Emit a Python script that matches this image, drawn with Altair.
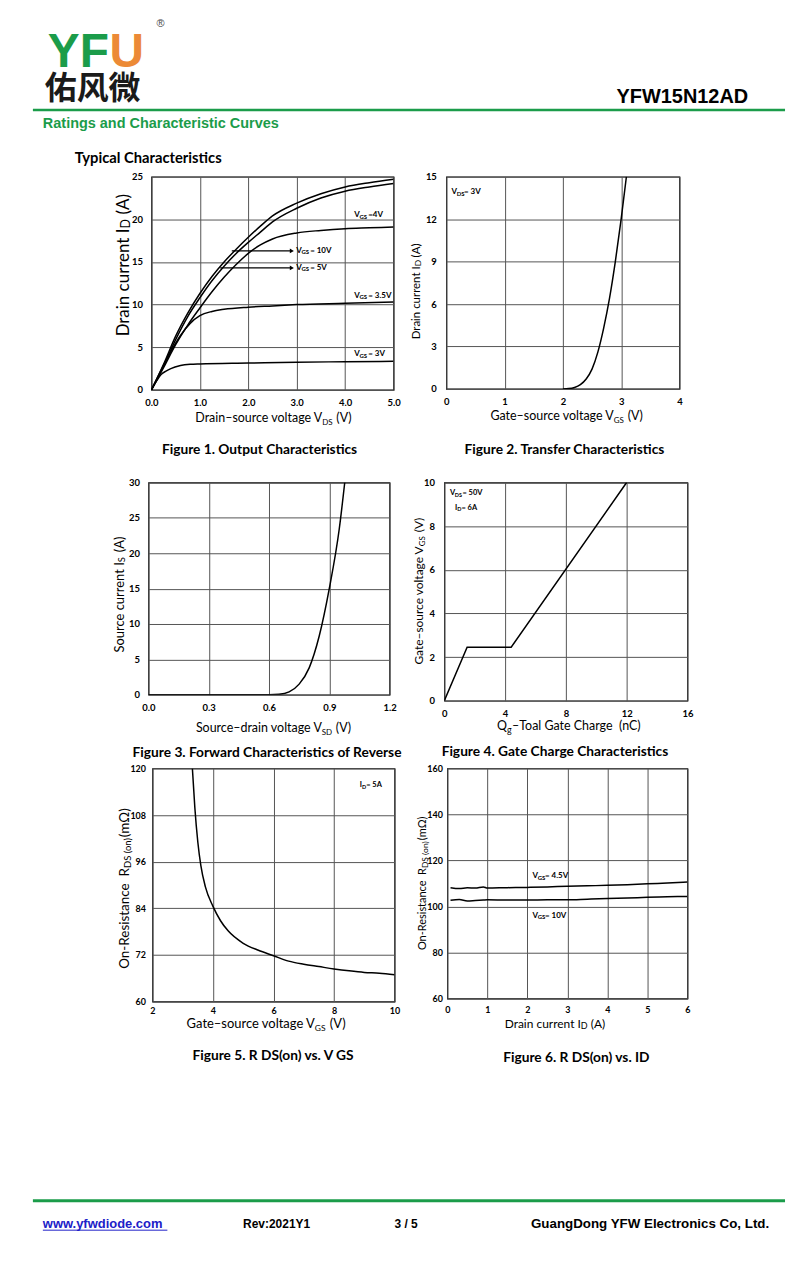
import altair as alt
import pandas as pd

# ---------------- data ----------------
# Figure 1: Output characteristics
F1_VDS = [0, 0.25, 0.5, 0.75, 1.0, 1.25, 1.5, 1.75, 2.0, 2.25, 2.5, 3.0, 3.5, 4.0, 4.5, 5.0]
F1_ID_VGS10 = [0, 3.0, 6.3, 9.0, 11.3, 13.3, 15.0, 16.5, 17.9, 19.2, 20.4, 21.9, 23.0, 23.8, 24.3, 24.7]
F1_ID_VGS5 = [0, 2.8, 5.9, 8.6, 10.8, 12.8, 14.5, 16.0, 17.3, 18.5, 19.7, 21.3, 22.5, 23.3, 23.8, 24.2]
F1_ID_VGS4 = [0, 2.6, 5.3, 7.6, 9.6, 11.5, 13.2, 14.7, 16.0, 17.0, 17.7, 18.4, 18.7, 18.9, 19.0, 19.1]
F1_VDS_VGS35 = [0, 0.2, 0.4, 0.6, 0.8, 1.0, 1.25, 1.5, 2.0, 2.5, 3.0, 4.0, 5.0]
F1_ID_VGS35 = [0, 2.3, 4.5, 6.4, 7.8, 8.7, 9.2, 9.45, 9.7, 9.85, 10.0, 10.15, 10.3]
F1_VDS_VGS3 = [0, 0.1, 0.2, 0.3, 0.4, 0.6, 0.8, 1.0, 2.0, 3.0, 4.0, 5.0]
F1_ID_VGS3 = [0, 1.0, 1.8, 2.2, 2.5, 2.85, 3.0, 3.05, 3.15, 3.25, 3.3, 3.35]
F1_LABEL_X = [4.19, 4.19, 4.19, 2.99, 2.99]
F1_LABEL_Y = [20.5, 11.05, 4.2, 16.3, 14.3]
F1_LABEL_TAIL = ["=4V", "= 3.5V", "= 3V", "= 10V", "= 5V"]
F1_ARROW_X1 = [1.66, 1.42]
F1_ARROW_X2 = [2.9, 2.9]
F1_ARROW_Y = [16.3, 14.3]

# Figure 2: Transfer characteristics
F2_VGS = [2.0, 2.1, 2.2, 2.3, 2.4, 2.5, 2.6, 2.7, 2.8, 2.9, 3.0, 3.09]
F2_ID = [0, 0.02, 0.1, 0.3, 0.7, 1.4, 2.6, 4.3, 6.4, 9.0, 12.0, 15.0]

# Figure 3: Forward characteristics of reverse diode
F3_VSD = [0, 0.6, 0.65, 0.7, 0.75, 0.8, 0.85, 0.9, 0.95, 0.977]
F3_IS = [0, 0, 0.05, 0.4, 1.5, 3.8, 8.3, 15.0, 23.5, 30.0]

# Figure 4: Gate charge
F4_QG = [0, 1.5, 4.4, 12.0]
F4_VGS = [0, 2.45, 2.45, 10.0]

# Figure 5: RDS(on) vs VGS
F5_VGS = [3.32, 3.4, 3.5, 3.6, 3.75, 4.0, 4.25, 4.5, 5.0, 5.5, 6.0, 6.5, 7.0, 7.5, 8.0, 8.5, 9.0, 9.5, 10.0]
F5_RDS = [120, 110, 101, 95, 89.5, 84.5, 80.8, 78.2, 75.0, 73.2, 71.8, 70.4, 69.6, 69.0, 68.4, 67.9, 67.5, 67.3, 66.9]

# Figure 6: RDS(on) vs ID
F6_ID = [0.08, 0.3, 0.5, 0.7, 0.9, 1.0, 1.5, 2.0, 2.5, 3.0, 3.5, 4.0, 4.5, 5.0, 5.5, 6.0]
F6_RDS_VGS45 = [108.2, 107.8, 108.1, 108.0, 108.5, 108.0, 108.2, 108.3, 108.5, 108.8, 109.0, 109.2, 109.5, 109.9, 110.2, 110.6]
F6_RDS_VGS10 = [102.7, 103.0, 102.4, 102.6, 102.8, 102.9, 102.8, 102.8, 102.9, 102.9, 103.2, 103.5, 103.7, 104.0, 104.2, 104.4]

# ---------------- styling helpers ----------------
FONT = "Lato"
HF = "Liberation Sans"
GRID = "#555555"
GREEN = "#1b9c4a"
CAP = 13.8
ONE = pd.DataFrame({"k": [0]})


def ptext(x, y, text, size, weight="normal", align="left", baseline="alphabetic",
          angle=0, dx=0, dy=0, font=FONT, color="black"):
    return alt.Chart(ONE).mark_text(
        text=text, fontSize=size, fontWeight=weight, align=align, baseline=baseline,
        angle=angle, dx=dx, dy=dy, font=font, color=color
    ).encode(x=alt.value(x), y=alt.value(y))


def prule(x1, x2, y, color, width):
    return alt.Chart(ONE).mark_rule(color=color, strokeWidth=width).encode(
        x=alt.value(x1), x2=alt.value(x2), y=alt.value(y))


def xtitle(j, base, main, sub, tail, size, subsize, tail_dx, sub_dy=3):
    return [ptext(j, base, main, size, align="right"),
            ptext(j, base, sub, subsize, align="left", dy=sub_dy),
            ptext(j, base, tail, size, align="left", dx=tail_dx)]


def ytitle(j, bx, main, sub, tail, size, subsize, tail_dx, sub_dy=2):
    return [ptext(bx, j, main, size, align="right", angle=270),
            ptext(bx, j, sub, subsize, align="left", angle=270, dy=sub_dy),
            ptext(bx, j, tail, size, align="left", angle=270, dx=tail_dx)]


def anno(X, Y, xv, yv, pieces):
    d = pd.DataFrame({"x": [xv], "y": [yv]})
    return [alt.Chart(d).mark_text(text=t, fontSize=s, fontWeight="bold", font=FONT,
                                   align="left", baseline="middle", dx=dx, dy=dy,
                                   color="black").encode(x=X, y=Y)
            for (t, s, dx, dy) in pieces]


def vlabel(main, sub, tail, tail_dx, size=8, subsize=6, sub_dx=5.2):
    return [(main, size, 0, 0), (sub, subsize, sub_dx, 1.5), (tail, size, tail_dx, 0)]


def encs(xdom, ydom, xvals, yvals, xfmt, yfmt, xpad, ypad, lsize):
    common = dict(grid=True, gridColor=GRID, gridWidth=1, ticks=False, tickSize=0,
                  domain=False, labelFont=FONT, labelFontSize=lsize,
                  labelFontWeight="bold", labelColor="black", title=None,
                  labelOverlap=False, labelFlush=False)
    X = alt.X("x:Q", scale=alt.Scale(domain=xdom, nice=False, zero=False),
              axis=alt.Axis(values=xvals, format=xfmt, labelPadding=xpad, **common))
    Y = alt.Y("y:Q", scale=alt.Scale(domain=ydom, nice=False, zero=False),
              axis=alt.Axis(values=yvals, format=yfmt, labelPadding=ypad, **common))
    return X, Y


def curves(X, Y, xs_list, ys_list, interp="monotone"):
    rows = []
    for i, (xs, ys) in enumerate(zip(xs_list, ys_list)):
        rows += [{"x": a, "y": b, "c": i} for a, b in zip(xs, ys)]
    return alt.Chart(pd.DataFrame(rows)).mark_line(
        color="black", strokeWidth=1.5, interpolate=interp, clip=True
    ).encode(x=X, y=Y, detail="c:N")


def panel(layers, w, h):
    return alt.layer(*layers).properties(
        width=w, height=h, view=alt.ViewBackground(stroke="black", strokeWidth=1.2))


def spacer(w, h):
    return alt.Chart(ONE).mark_point(opacity=0).encode(
        x=alt.value(0), y=alt.value(0)).properties(width=w, height=h)


# ---------------- Figure 1 ----------------
X, Y = encs([0, 5], [0, 25], [0, 1, 2, 3, 4, 5], [0, 5, 10, 15, 20, 25], ".1f", "d", 8, 9, 9.5)
f1 = [curves(X, Y, [F1_VDS, F1_VDS, F1_VDS, F1_VDS_VGS35, F1_VDS_VGS3],
             [F1_ID_VGS10, F1_ID_VGS5, F1_ID_VGS4, F1_ID_VGS35, F1_ID_VGS3])]
arr = pd.DataFrame({"x": F1_ARROW_X1, "x2": F1_ARROW_X2, "y": F1_ARROW_Y})
f1.append(alt.Chart(arr).mark_rule(color="black", strokeWidth=1.2).encode(x=X, x2="x2:Q", y=Y))
f1.append(alt.Chart(pd.DataFrame({"x": F1_ARROW_X2, "y": F1_ARROW_Y})).mark_point(
    shape="triangle-right", filled=True, size=22, color="black", opacity=1).encode(x=X, y=Y))
for lx, ly, lt in zip(F1_LABEL_X, F1_LABEL_Y, F1_LABEL_TAIL):
    f1 += anno(X, Y, lx, ly, vlabel("V", "GS", lt, 14))
f1 += xtitle(171.5, 246, "Drain\u2013source voltage V", "DS", "(V)", 12.5, 8, 14)
f1 += ytitle(52, -23, "Drain current I", "D", "(A)", 17, 12.5, 14, sub_dy=1)
f1.append(ptext(108.5, 278, "Figure 1. Output Characteristics", CAP, weight="bold", align="center"))
fig1 = panel(f1, 243, 214)

# ---------------- Figure 2 ----------------
X, Y = encs([0, 4], [0, 15], [0, 1, 2, 3, 4], [0, 3, 6, 9, 12, 15], "d", "d", 8, 10, 9.5)
f2 = [curves(X, Y, [F2_VGS], [F2_ID])]
f2 += anno(X, Y, 0.09, 13.9, vlabel("V", "DS", "= 3V", 12.5))
f2 += xtitle(168, 244, "Gate\u2013source voltage V", "GS", "(V)", 12.5, 8, 14)
f2 += ytitle(90, -26, "Drain current I", "D", "(A)", 11.5, 8.5, 9, sub_dy=1)
f2.append(ptext(118.5, 278, "Figure 2. Transfer Characteristics", CAP, weight="bold", align="center"))
fig2 = panel(f2, 234, 213)

# ---------------- Figure 3 ----------------
X, Y = encs([0, 1.2], [0, 30], [0, 0.3, 0.6, 0.9, 1.2], [0, 5, 10, 15, 20, 25, 30], ".1f", "d", 8, 9, 9.5)
f3 = [curves(X, Y, [F3_VSD], [F3_IS])]
f3 += xtitle(174, 250, "Source\u2013drain voltage V", "SD", "(V)", 12.5, 8, 14)
f3 += ytitle(80, -25, "Source current I", "S", "(A)", 13, 9.5, 10, sub_dy=1)
f3.append(ptext(119, 276, "Figure 3. Forward Characteristics of Reverse", CAP, weight="bold", align="center"))
fig3 = panel(f3, 242, 213)

# ---------------- Figure 4 ----------------
X, Y = encs([0, 16], [0, 10], [0, 4, 8, 12, 16], [0, 2, 4, 6, 8, 10], "d", "d", 8, 10, 9.5)
f4 = [curves(X, Y, [F4_QG], [F4_VGS], interp="linear")]
f4 += anno(X, Y, 0.37, 9.5, vlabel("V", "DS", "= 50V", 12.5, size=7.5, subsize=5.5, sub_dx=4.9))
f4 += anno(X, Y, 0.7, 8.85, vlabel("I", "D", "= 6A", 6.5, size=7.5, subsize=5.5, sub_dx=2.4))
f4 += xtitle(63, 248, "Q", "g", "\u2013Toal Gate Charge\u00a0\u00a0(nC)", 12.5, 9, 5)
f4 += ytitle(64, -21, "Gate\u2013source voltage V", "GS", "(V)", 12, 8, 14)
f4.append(ptext(111, 275, "Figure 4. Gate Charge Characteristics", CAP, weight="bold", align="center"))
fig4 = panel(f4, 244, 219)

# ---------------- Figure 5 ----------------
X, Y = encs([2, 10], [60, 120], [2, 4, 6, 8, 10], [60, 72, 84, 96, 108, 120], "d", "d", 5, 7, 9)
f5 = [curves(X, Y, [F5_VGS], [F5_RDS])]
f5 += anno(X, Y, 8.85, 115.7, vlabel("I", "D", "= 5A", 6.5, size=7.5, subsize=5.5, sub_dx=2.4))
f5 += xtitle(163, 261, "Gate\u2013source voltage V", "GS", "(V)", 13, 8.5, 15)
f5 += ytitle(100, -24, "On-Resistance\u00a0\u00a0R", "DS (on)", "(m\u03a9)", 13.5, 9.5, 31)
f5.append(ptext(121, 293, "Figure 5. R DS(on) vs. V GS", CAP, weight="bold", align="center"))
fig5 = panel(f5, 243, 234)

# ---------------- Figure 6 ----------------
X, Y = encs([0, 6], [60, 160], [0, 1, 2, 3, 4, 5, 6], [60, 80, 100, 120, 140, 160], "d", "d", 7, 5, 9)
f6 = [curves(X, Y, [F6_ID, F6_ID], [F6_RDS_VGS45, F6_RDS_VGS10])]
f6 += anno(X, Y, 2.13, 113.1, vlabel("V", "GS", "= 4.5V", 12.5))
f6 += anno(X, Y, 2.13, 96.0, vlabel("V", "GS", "= 10V", 12.5))
f6 += xtitle(134, 261, "Drain current I", "D", "(A)", 12, 9, 10, sub_dy=1)
f6 += ytitle(100, -21, "On-Resistance\u00a0\u00a0R", "DS (on)", "(m\u03a9)", 11, 8.5, 28)
f6.append(ptext(129.5, 295, "Figure 6. R DS(on) vs. ID", CAP, weight="bold", align="center"))
fig6 = panel(f6, 241, 231)

# ---------------- header & footer ----------------
header = alt.layer(
    ptext(37, 57, "YF", 48, weight="bold", font=HF, color=GREEN),
    ptext(99, 57, "U", 48, weight="bold", font=HF, color="#ec8a36"),
    ptext(146, 17, "\u00ae", 11, font=HF, color="#444444"),
    ptext(34, 89, "佑风微", 32, weight="bold", font="Noto Sans CJK SC", color="#1a1a1a"),
    ptext(740, 93, "YFW15N12AD", 20, weight="bold", font=HF, align="right"),
    prule(22, 777, 100, GREEN, 2.5),
    ptext(32, 118, "Ratings and Characteristic Curves", 14.5, weight="bold", font=HF, color=GREEN),
    ptext(64, 153, "Typical Characteristics", 14.8, weight="bold"),
).properties(width=784, height=167)

LINK = "#2020c8"
footer = alt.layer(
    prule(22, 777, 200, GREEN, 3),
    ptext(32, 227, "www.yfwdiode.com", 13, weight="bold", font=HF, color=LINK),
    prule(32, 157, 229.5, LINK, 1),
    ptext(233, 227, "Rev:2021Y1", 12, weight="bold", font=HF),
    ptext(385, 227, "3 / 5", 12, weight="bold", font=HF),
    ptext(522, 227, "GuangDong YFW Electronics Co, Ltd.", 13.4, weight="bold", font=HF),
).properties(width=784, height=233)

# nested concat rows take no height in a flush layout, so the spacers carry it
row1 = alt.hconcat(spacer(141, 214), fig1, spacer(53, 214), fig2, spacing=0, bounds="flush")
row2 = alt.hconcat(spacer(138, 219), fig3, spacer(55, 219), fig4, spacing=0, bounds="flush")
row3 = alt.hconcat(spacer(142, 234), fig5, spacer(53, 234), fig6, spacing=0, bounds="flush")

chart = alt.vconcat(
    header, row1, spacer(1, 307), row2, spacer(1, 287), row3, spacer(1, 234), footer,
    spacing=0, bounds="flush"
).properties(padding=0, background="white").configure_view(stroke=None)

chart.save("out.html", embed_options={"renderer": "svg", "actions": False})
